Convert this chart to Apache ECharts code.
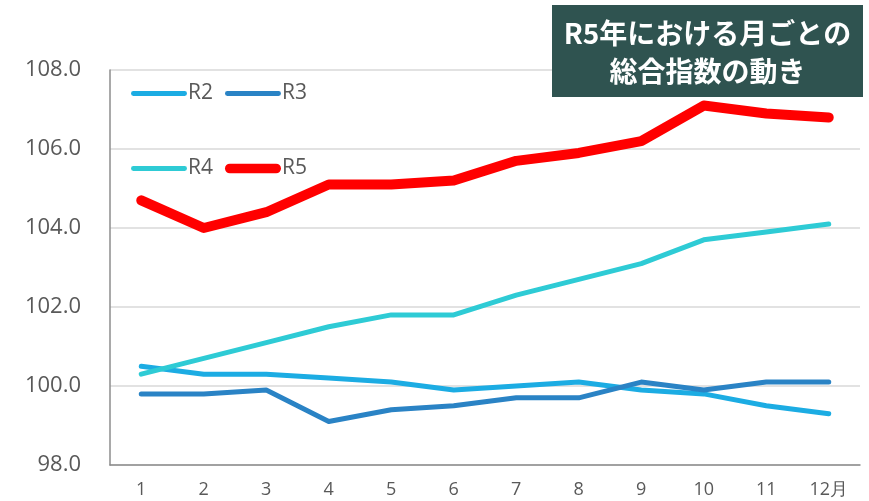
<!DOCTYPE html>
<html>
<head>
<meta charset="utf-8">
<script src="https://cdn.jsdelivr.net/npm/echarts@6/dist/echarts.min.js"></script>
<style>
  html, body { margin: 0; padding: 0; background: #fff; }
  #chart { width: 869px; height: 501px; }
</style>
</head>
<body>
<div id="chart"></div>
<script>
// 月ラベル
const months = ['1', '2', '3', '4', '5', '6', '7', '8', '9', '10', '11', '12月'];

// 各年の総合指数
const r2 = [100.5, 100.3, 100.3, 100.2, 100.1, 99.9, 100.0, 100.1, 99.9, 99.8, 99.5, 99.3];
const r3 = [99.8, 99.8, 99.9, 99.1, 99.4, 99.5, 99.7, 99.7, 100.1, 99.9, 100.1, 100.1];
const r4 = [100.3, 100.7, 101.1, 101.5, 101.8, 101.8, 102.3, 102.7, 103.1, 103.7, 103.9, 104.1];
const r5 = [104.7, 104.0, 104.4, 105.1, 105.1, 105.2, 105.7, 105.9, 106.2, 107.1, 106.9, 106.8];

const seriesNames = ['R2', 'R3', 'R4', 'R5'];
const seriesColors = ['#1cace3', '#2a83c5', '#2ecbd5', '#ff0000'];
const seriesWidths = [5, 5, 5, 10];

const font = '"Open Sans", "Noto Sans", sans-serif';

// 凡例用の角丸ライン
function lineIcon(h) {
  const r = h / 2;
  return 'path://M' + r + ',0 L' + (58 - r) + ',0 A' + r + ',' + r + ' 0 0 1 ' + (58 - r) + ',' + h +
    ' L' + r + ',' + h + ' A' + r + ',' + r + ' 0 0 1 ' + r + ',0 Z';
}

const myChart = echarts.init(document.getElementById('chart'));

const legendBase = {
  left: 126,
  itemWidth: 56,
  itemHeight: 14,
  itemGap: 12,
  textStyle: { fontFamily: font, fontSize: 21, color: '#595959', padding: [0, 0, 0, -4] }
};

function legendData(names) {
  return names.map(n => {
    const i = seriesNames.indexOf(n);
    return { name: n, icon: lineIcon(seriesWidths[i]), itemStyle: { color: seriesColors[i] } };
  });
}

const option = {
  animation: false,
  backgroundColor: '#fff',
  grid: { left: 110, right: 9, top: 70, bottom: 36 },
  legend: [
    Object.assign({}, legendBase, { top: 78, data: legendData(['R2', 'R3']) }),
    Object.assign({}, legendBase, { top: 153, data: legendData(['R4', 'R5']) })
  ],
  xAxis: {
    type: 'category',
    data: months,
    boundaryGap: true,
    axisLine: { lineStyle: { color: '#8c8c8c', width: 1.5 } },
    axisTick: { show: false },
    axisLabel: { fontFamily: font, fontSize: 18, color: '#595959', margin: 16 }
  },
  yAxis: {
    type: 'value',
    min: 98,
    max: 108,
    interval: 2,
    axisLine: { show: true, lineStyle: { color: '#8c8c8c', width: 1.5 } },
    axisTick: { show: false },
    splitLine: { lineStyle: { color: '#d9d9d9', width: 1.5 } },
    axisLabel: {
      fontFamily: font, fontSize: 22, color: '#595959', margin: 29,
      formatter: v => v.toFixed(1)
    }
  },
  series: seriesNames.map((name, i) => ({
    name: name,
    type: 'line',
    data: [r2, r3, r4, r5][i],
    symbol: 'none',
    color: seriesColors[i],
    lineStyle: { width: seriesWidths[i], color: seriesColors[i], cap: 'round', join: 'round' },
    z: i + 2
  })),
  graphic: [
    {
      type: 'rect',
      left: 552, top: 5,
      z: 100,
      shape: { width: 311, height: 92 },
      style: { fill: '#2f5350' }
    },
    {
      type: 'text',
      x: 707.5, y: 52,
      z: 101,
      style: {
        text: 'R5年における月ごとの\n総合指数の動き',
        fill: '#fff',
        font: 'bold 28px "Noto Sans CJK JP", sans-serif',
        align: 'center',
        verticalAlign: 'middle',
        lineHeight: 38
      }
    }
  ]
};

myChart.setOption(option);
</script>
</body>
</html>
